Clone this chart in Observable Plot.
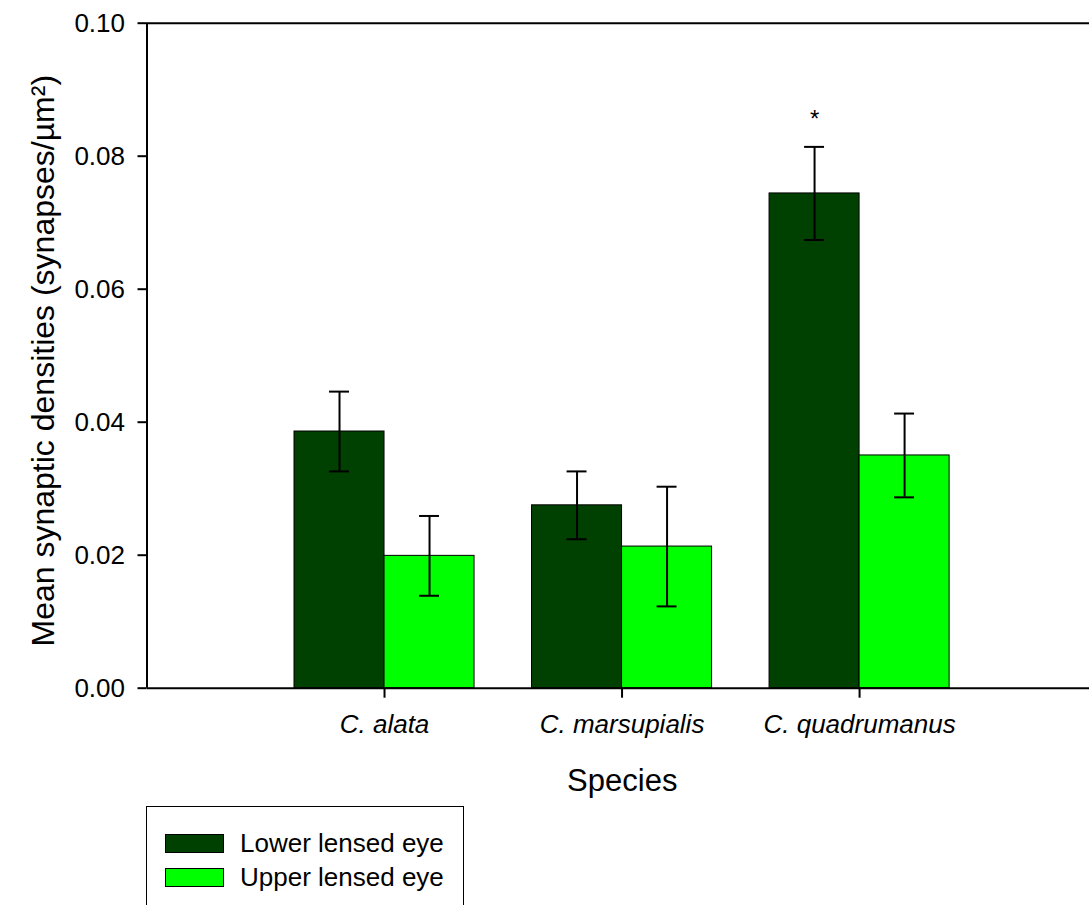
<!DOCTYPE html>
<html>
<head>
<meta charset="utf-8">
<script src="https://cdn.jsdelivr.net/npm/d3@7"></script>
<script src="https://cdn.jsdelivr.net/npm/@observablehq/plot@0.6"></script>
<style>
  html, body { margin: 0; padding: 0; background: #fff; overflow: hidden; }
  body { font-family: "Liberation Sans", Arial, sans-serif; width: 1089px; height: 905px; }
  #legend { margin-left: 146px; margin-top: 6px; width: 318px; height: 130px; border: 1px solid #000; box-sizing: border-box; position: relative; }
  .item { position: absolute; left: 18px; display: flex; align-items: center; font-size: 26px; color: #000; }
  .sw { width: 59px; height: 19px; border: 1px solid #000; box-sizing: border-box; margin-right: 16px; }
</style>
</head>
<body>
<div id="chart"></div>
<div id="legend"></div>
<script>
const species = ["C. alata", "C. marsupialis", "C. quadrumanus"];
const series = ["Lower lensed eye", "Upper lensed eye"];
const colors = ["#004000", "#00ff00"];
const lowerMean = [0.0386, 0.0275, 0.0744];
const lowerSE = [0.0060, 0.0051, 0.0070];
const upperMean = [0.0199, 0.0213, 0.0350];
const upperSE = [0.0060, 0.0090, 0.0063];
const significance = ["", "", "*"];
const yTicks = [0, 0.02, 0.04, 0.06, 0.08, 0.10];

const barW = 0.379;   // bar width in group units
const capHalf = 0.042;

const rows = [];
species.forEach((s, k) => {
  const i = k + 1;
  rows.push({species: s, series: series[0], x1: i - barW, x2: i, value: lowerMean[k], se: lowerSE[k], sig: significance[k]});
  rows.push({species: s, series: series[1], x1: i, x2: i + barW, value: upperMean[k], se: upperSE[k], sig: ""});
});
rows.forEach(r => { r.c = (r.x1 + r.x2) / 2; r.lo = r.value - r.se; r.hi = r.value + r.se; });

const chart = Plot.plot({
  width: 1089,
  height: 800,
  marginLeft: 146.5,
  marginRight: 0,
  marginTop: 22.7,
  marginBottom: 112.3,
  style: {fontFamily: "'Liberation Sans', Arial, sans-serif", background: "#fff", color: "#000", overflow: "visible"},
  x: {domain: [0, 3.968], axis: null},
  y: {domain: [0, 0.1], axis: null},
  color: {domain: series, range: colors},
  marks: [
    Plot.rect(rows, {x1: "x1", x2: "x2", y1: 0, y2: "value", fill: "series", stroke: "#000", strokeWidth: 1}),
    Plot.ruleX(rows, {x: "c", y1: "lo", y2: "hi", stroke: "#000", strokeWidth: 2}),
    Plot.ruleY(rows, {y: "hi", x1: d => d.c - capHalf, x2: d => d.c + capHalf, stroke: "#000", strokeWidth: 2}),
    Plot.ruleY(rows, {y: "lo", x1: d => d.c - capHalf, x2: d => d.c + capHalf, stroke: "#000", strokeWidth: 2}),
    Plot.text(rows.filter(d => d.sig), {x: "c", y: "hi", text: "sig", dy: -28, fontSize: 24, fill: "#000"}),
    Plot.ruleY([0], {stroke: "#000", strokeWidth: 2}),
    Plot.ruleY([0.1], {stroke: "#000", strokeWidth: 2}),
    Plot.ruleX([0], {stroke: "#000", strokeWidth: 2}),
    Plot.axisY({ticks: yTicks, tickFormat: d3.format(".2f"), tickSize: 9, tickPadding: 13, fontSize: 26, label: null, strokeWidth: 2}),
    Plot.axisX({ticks: [1, 2, 3], tickFormat: i => species[i - 1], tickSize: 10, tickPadding: 16, fontSize: 26, fontStyle: "italic", label: null, strokeWidth: 2}),
    Plot.text(["Species"], {frameAnchor: "bottom", dx: 4, dy: 103, fontSize: 31, fill: "#000"}),
    Plot.text(["Mean synaptic densities (synapses/µm²)"], {frameAnchor: "left", textAnchor: "middle", rotate: -90, dx: -103, dy: 5, fontSize: 32, fill: "#000"})
  ]
});
document.getElementById("chart").appendChild(chart);

const legend = document.getElementById("legend");
series.forEach((s, k) => {
  const item = document.createElement("div");
  item.className = "item";
  item.style.top = (21 + k * 33.5) + "px";
  const sw = document.createElement("div");
  sw.className = "sw";
  sw.style.background = colors[k];
  const label = document.createElement("span");
  label.textContent = s;
  item.appendChild(sw);
  item.appendChild(label);
  legend.appendChild(item);
});
</script>
</body>
</html>
